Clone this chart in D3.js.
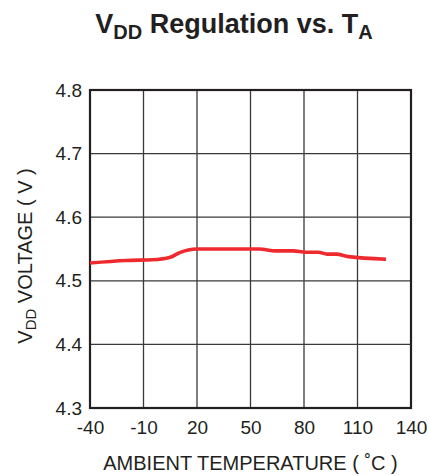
<!DOCTYPE html>
<html>
<head>
<meta charset="utf-8">
<script src="https://cdn.jsdelivr.net/npm/d3@7"></script>
<style>
  html, body { margin: 0; padding: 0; background: #fff; }
  svg { display: block; }
  text { font-family: "Liberation Sans", Arial, sans-serif; fill: #231f20; }
</style>
</head>
<body>
<svg id="chart" width="430" height="476"></svg>
<script>
const temps    = [-40, -20, -5, 5, 10, 20, 55, 64, 74, 81, 88, 93, 98, 105, 126];
const voltages = [4.528, 4.532, 4.533, 4.537, 4.544, 4.550, 4.550, 4.547, 4.547, 4.545, 4.545, 4.542, 4.542, 4.538, 4.534];
const xTicks = [-40, -10, 20, 50, 80, 110, 140];
const yTicks = [4.3, 4.4, 4.5, 4.6, 4.7, 4.8];

const margin = { left: 90, right: 19, top: 90, bottom: 68 };
const W = 430, H = 476;
const svg = d3.select("#chart");

const x = d3.scaleLinear().domain([-40, 140]).range([margin.left, W - margin.right]);
const y = d3.scaleLinear().domain([4.3, 4.8]).range([H - margin.bottom, margin.top]);

// grid
const g = svg.append("g");
g.selectAll(".vg").data(xTicks).enter().append("line")
  .attr("x1", d => x(d)).attr("x2", d => x(d))
  .attr("y1", y(4.3)).attr("y2", y(4.8))
  .attr("stroke", "#3a3a3a").attr("stroke-width", 1.3);
g.selectAll(".hg").data(yTicks).enter().append("line")
  .attr("x1", x(-40)).attr("x2", x(140))
  .attr("y1", d => y(d)).attr("y2", d => y(d))
  .attr("stroke", "#3a3a3a").attr("stroke-width", 1.3);

// frame
svg.append("rect")
  .attr("x", x(-40)).attr("y", y(4.8))
  .attr("width", x(140) - x(-40)).attr("height", y(4.3) - y(4.8))
  .attr("fill", "none").attr("stroke", "#231f20").attr("stroke-width", 2.2);

// axes tick labels
const xAxis = d3.axisBottom(x).tickValues(xTicks).tickSize(0).tickPadding(13).tickFormat(d => String(d));
const xa = svg.append("g").attr("transform", `translate(0,${y(4.3)})`).call(xAxis);
xa.select(".domain").remove();
xa.selectAll("text").attr("font-size", 19).attr("font-family", "Liberation Sans, Arial, sans-serif").attr("fill", "#231f20");

const yAxis = d3.axisLeft(y).tickValues(yTicks).tickSize(0).tickPadding(8).tickFormat(d3.format(".1f"));
const ya = svg.append("g").attr("transform", `translate(${x(-40)},0)`).call(yAxis);
ya.select(".domain").remove();
ya.selectAll("text").attr("font-size", 19).attr("font-family", "Liberation Sans, Arial, sans-serif").attr("fill", "#231f20");

// line
const line = d3.line().x((d, i) => x(temps[i])).y(d => y(d)).curve(d3.curveMonotoneX);
svg.append("path").datum(voltages)
  .attr("d", line)
  .attr("fill", "none").attr("stroke", "#ee2a2e").attr("stroke-width", 3.6)
  .attr("stroke-linejoin", "round");

// title
const title = svg.append("text").attr("x", 234).attr("y", 33)
  .attr("text-anchor", "middle").attr("font-size", 27).attr("font-weight", "bold");
title.append("tspan").text("V");
title.append("tspan").attr("font-size", 20).attr("dy", 6).text("DD");
title.append("tspan").attr("dy", -6).text(" Regulation vs. T");
title.append("tspan").attr("font-size", 20).attr("dy", 6).text("A");

// x label
svg.append("text").attr("x", (x(-40) + x(140)) / 2).attr("y", 470)
  .attr("text-anchor", "middle").attr("font-size", 20)
  .text("AMBIENT TEMPERATURE ( ˚C )");

// y label
const yl = svg.append("text")
  .attr("transform", `translate(32,${(y(4.3) + y(4.8)) / 2 + 7}) rotate(-90)`)
  .attr("text-anchor", "middle").attr("font-size", 20);
yl.append("tspan").text("V");
yl.append("tspan").attr("font-size", 15).attr("dy", 4).text("DD");
yl.append("tspan").attr("dy", -4).text(" VOLTAGE ( V )");
</script>
</body>
</html>
